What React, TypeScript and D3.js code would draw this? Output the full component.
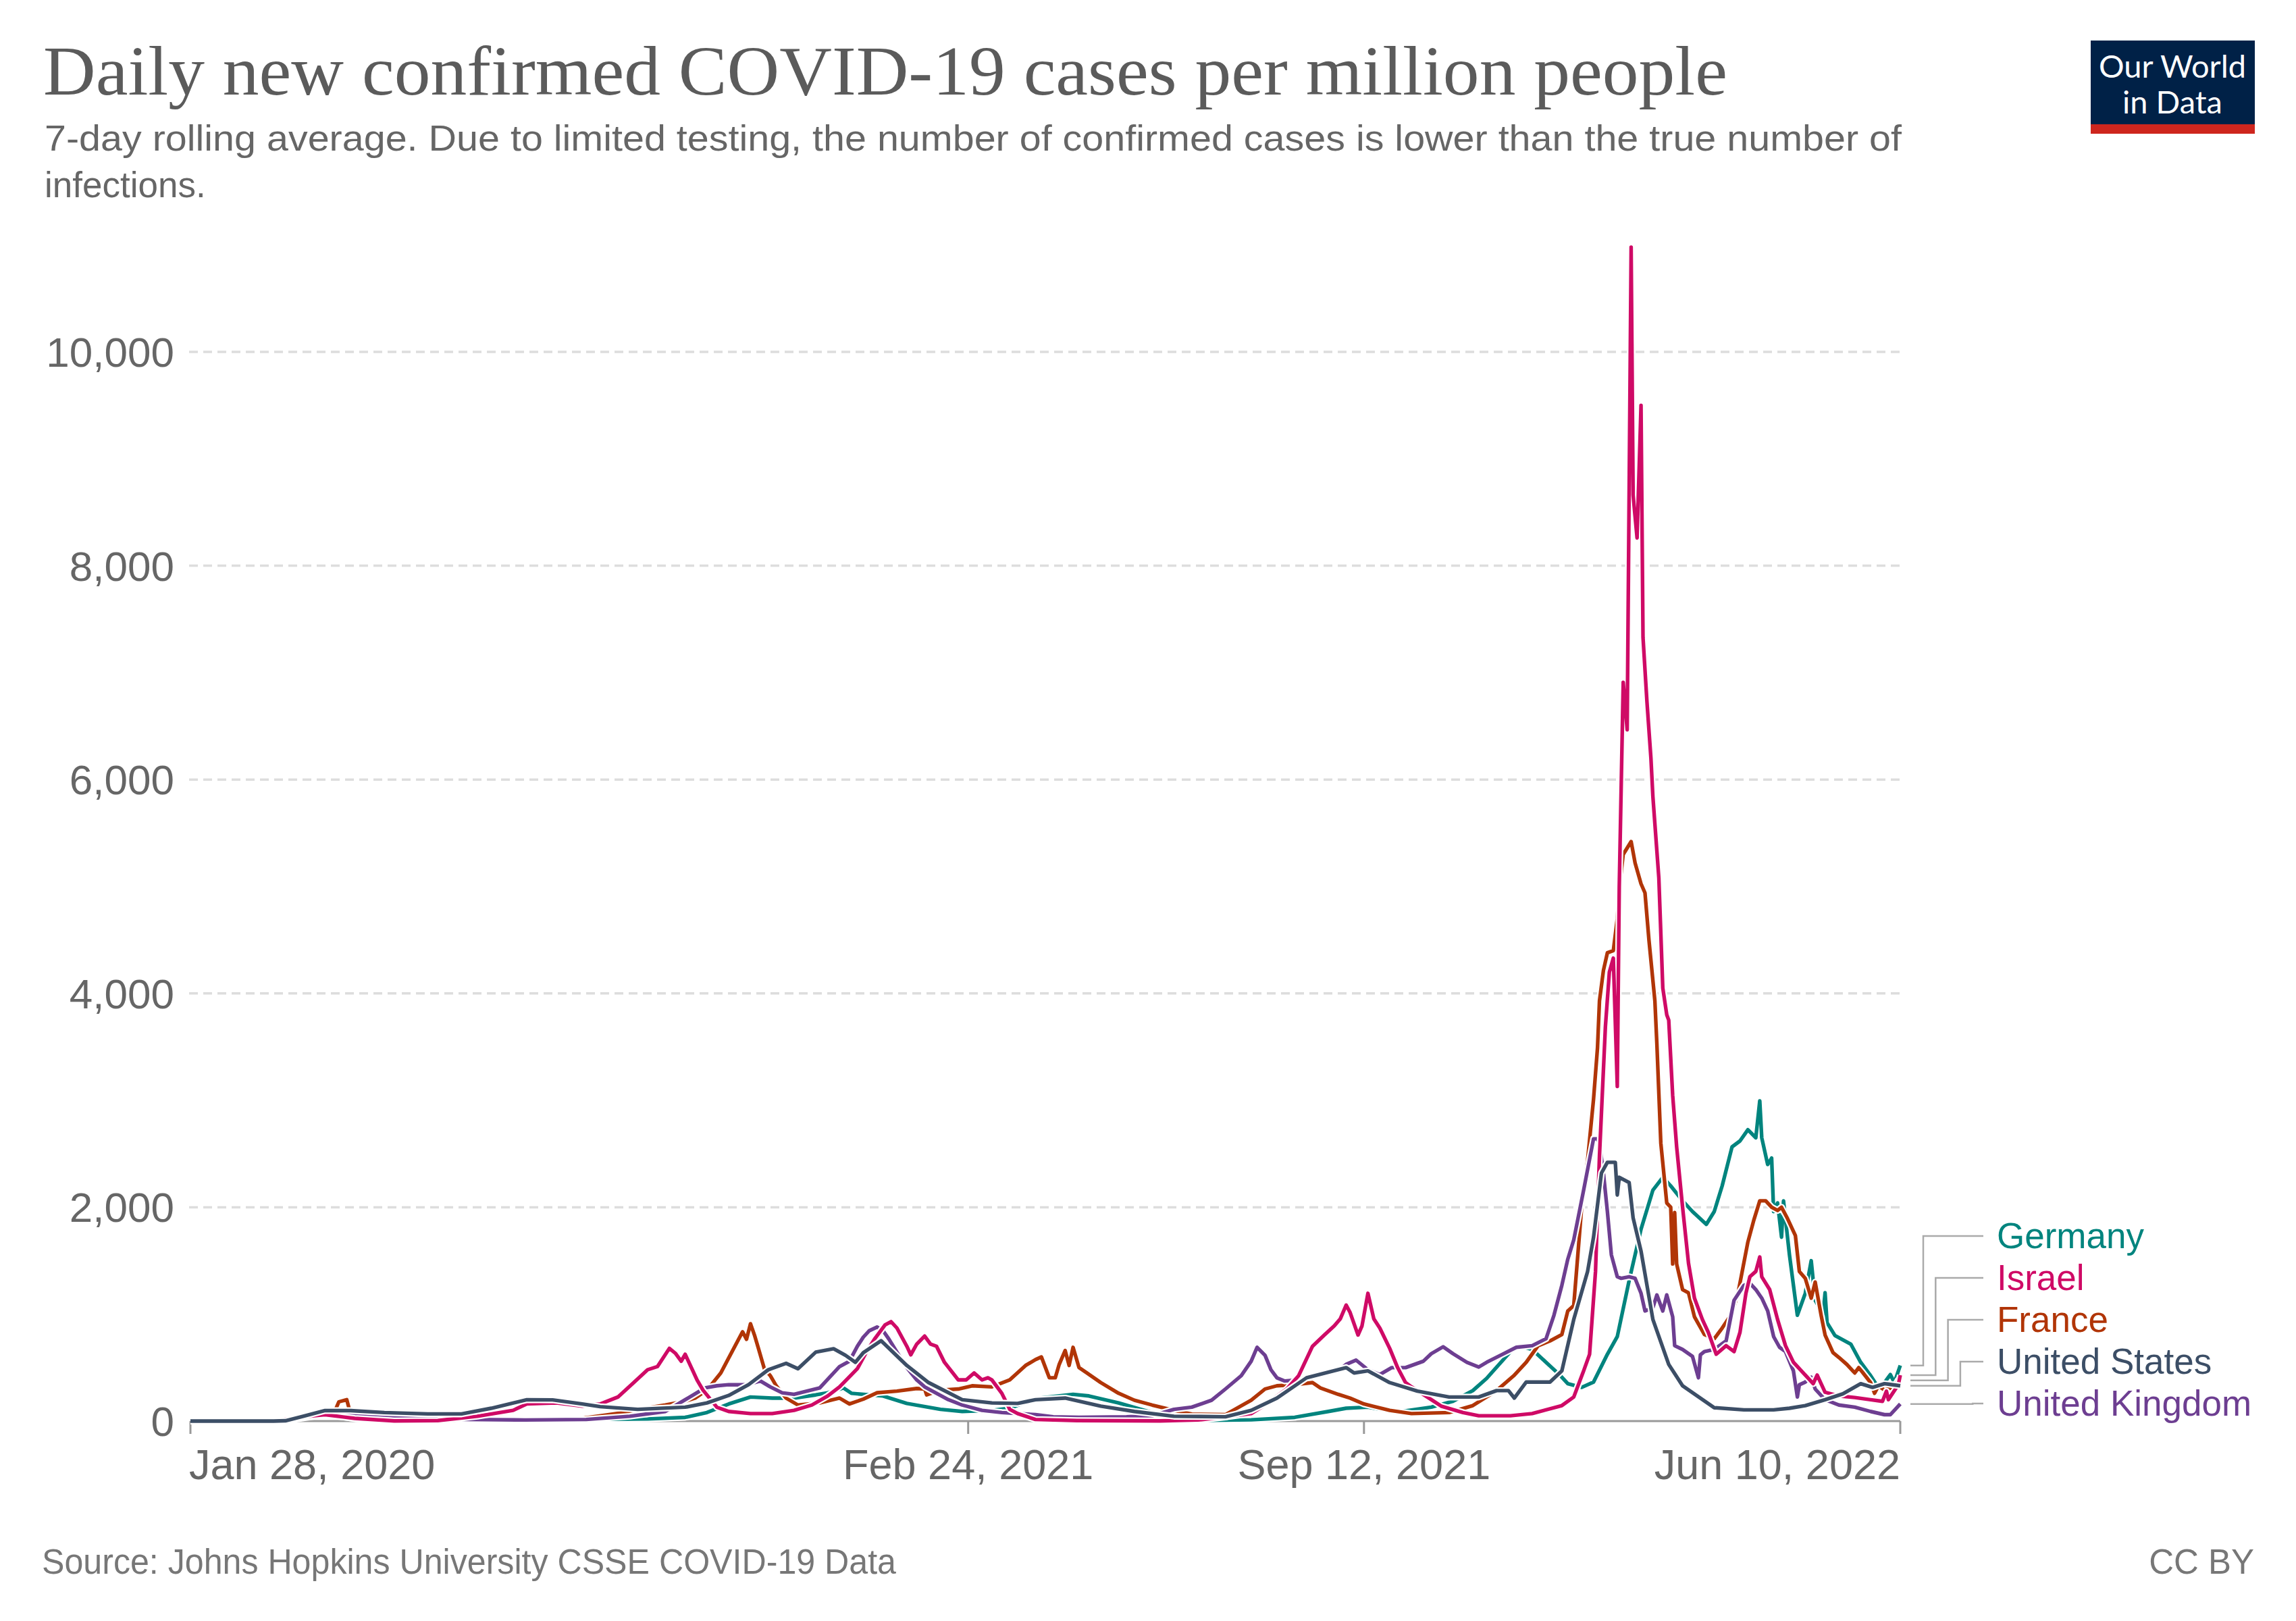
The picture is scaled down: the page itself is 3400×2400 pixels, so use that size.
import * as d3 from "d3";
import { FC } from "react";

type Pt = [string, number];

const COUNTRIES = ["Germany", "Israel", "France", "United States", "United Kingdom"];
const COLORS = ["#00847e", "#cf0a66", "#b13507", "#3c4e66", "#6d3e91"];

const germany: Pt[] = [
  ["2020-01-28", 0], ["2020-03-01", 0], ["2020-03-15", 10], ["2020-03-28", 65], ["2020-04-03", 72],
  ["2020-04-12", 45], ["2020-04-21", 20], ["2020-05-10", 10], ["2020-06-01", 5], ["2020-07-15", 5],
  ["2020-08-15", 15], ["2020-09-15", 20], ["2020-10-04", 35], ["2020-10-15", 80], ["2020-10-26", 160],
  ["2020-11-06", 225], ["2020-11-17", 215], ["2020-11-28", 215], ["2020-12-09", 245], ["2020-12-15", 265],
  ["2020-12-23", 310], ["2020-12-27", 260], ["2021-01-02", 250], ["2021-01-12", 235], ["2021-01-24", 165],
  ["2021-02-10", 110], ["2021-02-21", 90], ["2021-03-08", 100], ["2021-03-17", 120], ["2021-03-30", 210],
  ["2021-04-18", 250], ["2021-04-26", 235], ["2021-05-11", 170], ["2021-05-24", 100], ["2021-06-08", 25],
  ["2021-06-27", 7], ["2021-07-17", 12], ["2021-08-08", 35], ["2021-08-25", 90], ["2021-09-03", 120],
  ["2021-09-14", 130], ["2021-09-25", 95], ["2021-10-03", 95], ["2021-10-16", 130], ["2021-10-27", 185],
  ["2021-11-06", 285], ["2021-11-13", 400], ["2021-11-26", 670], ["2021-11-30", 700], ["2021-12-06", 670],
  ["2021-12-13", 550], ["2021-12-20", 430], ["2021-12-24", 350], ["2021-12-31", 315], ["2022-01-06", 365],
  ["2022-01-13", 625], ["2022-01-18", 790], ["2022-01-24", 1315], ["2022-01-30", 1795], ["2022-02-05", 2160],
  ["2022-02-10", 2280], ["2022-02-14", 2200], ["2022-02-20", 2060], ["2022-02-25", 1960], ["2022-03-04", 1840],
  ["2022-03-08", 1960], ["2022-03-12", 2200], ["2022-03-17", 2565], ["2022-03-21", 2620], ["2022-03-25", 2725],
  ["2022-03-29", 2650], ["2022-03-31", 2995], ["2022-04-01", 2650], ["2022-04-04", 2400], ["2022-04-06", 2460],
  ["2022-04-07", 1960], ["2022-04-09", 2040], ["2022-04-11", 1720], ["2022-04-12", 2060], ["2022-04-15", 1555],
  ["2022-04-19", 990], ["2022-04-23", 1195], ["2022-04-26", 1500], ["2022-04-28", 1130], ["2022-05-02", 1000],
  ["2022-05-03", 1200], ["2022-05-04", 920], ["2022-05-08", 800], ["2022-05-16", 720], ["2022-05-21", 550],
  ["2022-05-26", 425], ["2022-05-29", 340], ["2022-06-02", 360], ["2022-06-05", 435], ["2022-06-07", 360],
  ["2022-06-10", 520],
];

const israel: Pt[] = [
  ["2020-01-28", 0], ["2020-03-10", 0], ["2020-03-25", 40], ["2020-04-05", 60], ["2020-04-20", 25],
  ["2020-05-10", 2], ["2020-06-01", 5], ["2020-06-21", 45], ["2020-07-09", 100], ["2020-07-16", 160],
  ["2020-07-31", 170], ["2020-08-13", 140], ["2020-08-22", 160], ["2020-08-31", 225], ["2020-09-08", 360],
  ["2020-09-15", 480], ["2020-09-20", 510], ["2020-09-26", 680], ["2020-09-29", 635], ["2020-10-02", 560],
  ["2020-10-04", 625], ["2020-10-08", 465], ["2020-10-10", 385], ["2020-10-13", 290], ["2020-10-20", 130],
  ["2020-10-26", 90], ["2020-11-06", 70], ["2020-11-17", 70], ["2020-11-28", 100], ["2020-12-07", 150],
  ["2020-12-15", 235], ["2020-12-21", 320], ["2020-12-30", 490], ["2021-01-04", 660], ["2021-01-08", 775],
  ["2021-01-13", 900], ["2021-01-16", 930], ["2021-01-19", 870], ["2021-01-24", 700], ["2021-01-26", 620],
  ["2021-01-29", 720], ["2021-02-02", 795], ["2021-02-05", 720], ["2021-02-08", 700], ["2021-02-12", 550],
  ["2021-02-19", 385], ["2021-02-23", 385], ["2021-02-27", 450], ["2021-03-03", 385], ["2021-03-06", 405],
  ["2021-03-08", 385], ["2021-03-13", 260], ["2021-03-17", 110], ["2021-03-21", 70], ["2021-03-30", 15],
  ["2021-04-20", 5], ["2021-06-01", 2], ["2021-06-20", 10], ["2021-07-05", 40], ["2021-07-17", 70],
  ["2021-07-24", 150], ["2021-08-04", 300], ["2021-08-10", 425], ["2021-08-17", 700], ["2021-08-23", 805],
  ["2021-08-28", 890], ["2021-08-31", 955], ["2021-09-03", 1085], ["2021-09-05", 1015], ["2021-09-09", 805],
  ["2021-09-11", 890], ["2021-09-14", 1195], ["2021-09-17", 955], ["2021-09-20", 870], ["2021-09-25", 680],
  ["2021-09-29", 500], ["2021-10-03", 360], ["2021-10-06", 320], ["2021-10-14", 225], ["2021-10-21", 140],
  ["2021-11-01", 80], ["2021-11-09", 50], ["2021-11-25", 50], ["2021-12-06", 70], ["2021-12-21", 145],
  ["2021-12-27", 225], ["2022-01-01", 470], ["2022-01-04", 625], ["2022-01-07", 1400], ["2022-01-09", 2480],
  ["2022-01-12", 3690], ["2022-01-14", 4200], ["2022-01-16", 4330], ["2022-01-18", 3130], ["2022-01-19", 5000],
  ["2022-01-21", 6910], ["2022-01-23", 6465], ["2022-01-25", 10980], ["2022-01-26", 8660], ["2022-01-28", 8260],
  ["2022-01-30", 9500], ["2022-01-31", 7330], ["2022-02-02", 6725], ["2022-02-04", 6200], ["2022-02-05", 5840],
  ["2022-02-08", 5080], ["2022-02-10", 4050], ["2022-02-12", 3800], ["2022-02-13", 3750], ["2022-02-15", 3045],
  ["2022-02-17", 2565], ["2022-02-20", 2000], ["2022-02-23", 1475], ["2022-02-26", 1150], ["2022-03-02", 950],
  ["2022-03-05", 830], ["2022-03-09", 625], ["2022-03-14", 705], ["2022-03-18", 650], ["2022-03-21", 830],
  ["2022-03-24", 1195], ["2022-03-26", 1350], ["2022-03-29", 1400], ["2022-03-31", 1535], ["2022-04-01", 1350],
  ["2022-04-05", 1230], ["2022-04-09", 950], ["2022-04-13", 705], ["2022-04-17", 550], ["2022-04-23", 430],
  ["2022-04-27", 350], ["2022-04-29", 430], ["2022-05-03", 270], ["2022-05-10", 235], ["2022-05-18", 220],
  ["2022-05-26", 200], ["2022-06-01", 185], ["2022-06-03", 280], ["2022-06-04", 200], ["2022-06-09", 340],
  ["2022-06-10", 430],
];

const france: Pt[] = [
  ["2020-01-28", 0], ["2020-03-01", 0], ["2020-03-15", 10], ["2020-03-28", 50], ["2020-04-05", 70],
  ["2020-04-10", 95], ["2020-04-12", 180], ["2020-04-16", 200], ["2020-04-18", 60], ["2020-04-25", 40],
  ["2020-05-07", 15], ["2020-06-02", 5], ["2020-07-15", 8], ["2020-08-04", 15], ["2020-08-13", 25],
  ["2020-09-01", 75], ["2020-09-14", 120], ["2020-09-24", 150], ["2020-10-04", 185], ["2020-10-09", 215],
  ["2020-10-15", 290], ["2020-10-22", 450], ["2020-10-26", 590], ["2020-11-02", 835], ["2020-11-04", 765],
  ["2020-11-06", 910], ["2020-11-08", 805], ["2020-11-10", 680], ["2020-11-13", 490], ["2020-11-16", 425],
  ["2020-11-19", 330], ["2020-11-24", 215], ["2020-11-30", 150], ["2020-12-11", 170], ["2020-12-21", 215],
  ["2020-12-26", 160], ["2021-01-02", 205], ["2021-01-09", 265], ["2021-01-19", 280], ["2021-01-29", 305],
  ["2021-02-02", 300], ["2021-02-03", 245], ["2021-02-10", 290], ["2021-02-19", 300], ["2021-02-26", 330],
  ["2021-03-08", 320], ["2021-03-17", 385], ["2021-03-25", 520], ["2021-03-30", 575], ["2021-04-02", 600],
  ["2021-04-06", 405], ["2021-04-09", 405], ["2021-04-11", 530], ["2021-04-14", 660], ["2021-04-16", 520],
  ["2021-04-18", 690], ["2021-04-21", 500], ["2021-04-25", 450], ["2021-05-02", 360], ["2021-05-11", 260],
  ["2021-05-19", 195], ["2021-05-28", 150], ["2021-06-08", 100], ["2021-06-17", 65], ["2021-07-04", 60],
  ["2021-07-17", 195], ["2021-07-24", 300], ["2021-07-30", 330], ["2021-08-08", 340], ["2021-08-17", 360],
  ["2021-08-21", 310], ["2021-08-30", 250], ["2021-09-05", 215], ["2021-09-12", 160], ["2021-09-25", 100],
  ["2021-10-06", 70], ["2021-10-25", 80], ["2021-11-06", 145], ["2021-11-18", 285], ["2021-11-27", 430],
  ["2021-12-03", 550], ["2021-12-09", 705], ["2021-12-15", 750], ["2021-12-21", 810], ["2021-12-24", 1030],
  ["2021-12-27", 1080], ["2021-12-31", 2000], ["2022-01-03", 2440], ["2022-01-06", 3010], ["2022-01-08", 3490],
  ["2022-01-09", 3930], ["2022-01-11", 4215], ["2022-01-13", 4380], ["2022-01-16", 4400], ["2022-01-18", 4700],
  ["2022-01-19", 4980], ["2022-01-21", 5300], ["2022-01-25", 5420], ["2022-01-27", 5220], ["2022-01-30", 5025],
  ["2022-02-01", 4940], ["2022-02-03", 4500], ["2022-02-06", 3930], ["2022-02-07", 3530], ["2022-02-09", 2600],
  ["2022-02-12", 2040], ["2022-02-14", 2000], ["2022-02-15", 1470], ["2022-02-16", 1950], ["2022-02-17", 1470],
  ["2022-02-20", 1230], ["2022-02-23", 1200], ["2022-02-26", 975], ["2022-03-03", 810], ["2022-03-08", 770],
  ["2022-03-12", 870], ["2022-03-17", 1010], ["2022-03-20", 1195], ["2022-03-25", 1675], ["2022-03-28", 1880],
  ["2022-03-31", 2060], ["2022-04-03", 2060], ["2022-04-06", 2000], ["2022-04-09", 1970], ["2022-04-11", 2000],
  ["2022-04-14", 1895], ["2022-04-18", 1735], ["2022-04-20", 1400], ["2022-04-23", 1335], ["2022-04-26", 1150],
  ["2022-04-28", 1300], ["2022-05-01", 990], ["2022-05-03", 805], ["2022-05-07", 640], ["2022-05-10", 595],
  ["2022-05-14", 530], ["2022-05-18", 450], ["2022-05-20", 500], ["2022-05-22", 455], ["2022-05-26", 360],
  ["2022-05-28", 260], ["2022-05-30", 330], ["2022-06-02", 290], ["2022-06-07", 320], ["2022-06-09", 385],
  ["2022-06-10", 380],
];

const unitedStates: Pt[] = [
  ["2020-01-28", 0], ["2020-03-10", 0], ["2020-03-16", 3], ["2020-03-25", 45], ["2020-04-05", 98],
  ["2020-04-18", 98], ["2020-05-05", 80], ["2020-05-27", 67], ["2020-06-13", 67], ["2020-06-28", 120],
  ["2020-07-16", 200], ["2020-07-29", 198], ["2020-08-13", 160], ["2020-08-22", 135], ["2020-09-10", 110],
  ["2020-10-04", 130], ["2020-10-15", 170], ["2020-10-26", 240], ["2020-11-05", 340], ["2020-11-15", 480],
  ["2020-11-24", 540], ["2020-11-30", 490], ["2020-12-09", 645], ["2020-12-18", 677], ["2020-12-24", 615],
  ["2020-12-29", 550], ["2021-01-02", 640], ["2021-01-11", 752], ["2021-01-24", 520], ["2021-02-04", 360],
  ["2021-02-21", 200], ["2021-03-08", 170], ["2021-03-21", 165], ["2021-03-30", 200], ["2021-04-14", 215],
  ["2021-05-02", 140], ["2021-05-19", 90], ["2021-06-08", 45], ["2021-07-04", 40], ["2021-07-17", 100],
  ["2021-07-30", 215], ["2021-08-14", 405], ["2021-09-03", 500], ["2021-09-07", 450], ["2021-09-14", 470],
  ["2021-09-25", 360], ["2021-10-09", 280], ["2021-10-25", 225], ["2021-11-09", 225], ["2021-11-18", 285],
  ["2021-11-24", 285], ["2021-11-27", 215], ["2021-12-03", 365], ["2021-12-15", 365], ["2021-12-21", 470],
  ["2021-12-27", 950], ["2022-01-03", 1400], ["2022-01-06", 1720], ["2022-01-10", 2320], ["2022-01-13", 2420],
  ["2022-01-17", 2420], ["2022-01-18", 2115], ["2022-01-19", 2280], ["2022-01-24", 2230], ["2022-01-26", 1900],
  ["2022-01-30", 1590], ["2022-02-05", 950], ["2022-02-13", 530], ["2022-02-20", 330], ["2022-03-08", 125],
  ["2022-03-23", 105], ["2022-04-07", 105], ["2022-04-15", 120], ["2022-04-23", 145], ["2022-05-03", 200],
  ["2022-05-12", 255], ["2022-05-21", 350], ["2022-05-27", 315], ["2022-06-02", 350], ["2022-06-10", 330],
];

const unitedKingdom: Pt[] = [
  ["2020-01-28", 0], ["2020-03-05", 0], ["2020-03-20", 15], ["2020-04-05", 60], ["2020-04-15", 70],
  ["2020-05-01", 60], ["2020-05-20", 35], ["2020-06-15", 15], ["2020-07-15", 10], ["2020-08-15", 15],
  ["2020-09-06", 45], ["2020-09-24", 90], ["2020-10-04", 200], ["2020-10-14", 310], ["2020-10-20", 330],
  ["2020-10-26", 340], ["2020-11-04", 340], ["2020-11-11", 375], ["2020-11-16", 320], ["2020-11-22", 265],
  ["2020-11-28", 250], ["2020-12-11", 310], ["2020-12-18", 450], ["2020-12-21", 510], ["2020-12-26", 560],
  ["2020-12-30", 700], ["2021-01-02", 785], ["2021-01-05", 845], ["2021-01-09", 880], ["2021-01-12", 845],
  ["2021-01-15", 765], ["2021-01-19", 645], ["2021-01-24", 500], ["2021-01-29", 385], ["2021-02-02", 320],
  ["2021-02-08", 260], ["2021-02-14", 200], ["2021-02-21", 150], ["2021-03-03", 100], ["2021-03-13", 80],
  ["2021-03-30", 60], ["2021-04-08", 40], ["2021-04-21", 35], ["2021-05-15", 40], ["2021-05-28", 50],
  ["2021-06-08", 110], ["2021-06-17", 130], ["2021-06-27", 195], ["2021-07-04", 300], ["2021-07-12", 425],
  ["2021-07-17", 560], ["2021-07-20", 690], ["2021-07-24", 615], ["2021-07-27", 480], ["2021-07-30", 405],
  ["2021-08-03", 375], ["2021-08-10", 385], ["2021-08-17", 425], ["2021-08-23", 450], ["2021-08-30", 470],
  ["2021-09-03", 530], ["2021-09-08", 570], ["2021-09-14", 480], ["2021-09-20", 435], ["2021-09-26", 500],
  ["2021-10-03", 500], ["2021-10-12", 560], ["2021-10-16", 630], ["2021-10-22", 695], ["2021-10-27", 630],
  ["2021-11-03", 550], ["2021-11-09", 505], ["2021-11-13", 550], ["2021-11-21", 625], ["2021-11-28", 690],
  ["2021-12-06", 705], ["2021-12-13", 770], ["2021-12-17", 990], ["2021-12-21", 1270], ["2021-12-24", 1515],
  ["2021-12-27", 1695], ["2022-01-01", 2160], ["2022-01-06", 2640], ["2022-01-08", 2640], ["2022-01-09", 2600],
  ["2022-01-11", 2320], ["2022-01-13", 1960], ["2022-01-15", 1555], ["2022-01-18", 1350], ["2022-01-20", 1335],
  ["2022-01-24", 1350], ["2022-01-27", 1335], ["2022-01-30", 1195], ["2022-02-01", 1030], ["2022-02-05", 1060],
  ["2022-02-07", 1180], ["2022-02-10", 1030], ["2022-02-12", 1180], ["2022-02-15", 975], ["2022-02-16", 705],
  ["2022-02-20", 670], ["2022-02-25", 605], ["2022-02-28", 405], ["2022-03-01", 620], ["2022-03-03", 650],
  ["2022-03-08", 670], ["2022-03-14", 750], ["2022-03-18", 1130], ["2022-03-23", 1270], ["2022-03-26", 1290],
  ["2022-03-29", 1230], ["2022-04-01", 1150], ["2022-04-04", 1030], ["2022-04-07", 790], ["2022-04-10", 690],
  ["2022-04-13", 650], ["2022-04-17", 470], ["2022-04-19", 225], ["2022-04-20", 340], ["2022-04-23", 365],
  ["2022-04-26", 410], ["2022-04-28", 300], ["2022-05-03", 200], ["2022-05-10", 150], ["2022-05-18", 130],
  ["2022-05-26", 90], ["2022-06-02", 60], ["2022-06-05", 60], ["2022-06-10", 160],
];

const SERIES = [germany, israel, france, unitedStates, unitedKingdom];
// drawing order, last one on top
const DRAW_ORDER = [0, 2, 4, 1, 3];

const Y_TICKS = [0, 2000, 4000, 6000, 8000, 10000];
const X_TICKS = ["2020-01-28", "2021-02-24", "2021-09-12", "2022-06-10"];

const TITLE = "Daily new confirmed COVID-19 cases per million people";
const SUBTITLE = [
  "7-day rolling average. Due to limited testing, the number of confirmed cases is lower than the true number of",
  "infections.",
];
const SOURCE = "Source: Johns Hopkins University CSSE COVID-19 Data";

const W = 3400;
const H = 2400;
const SANS = "'Liberation Sans', Arial, sans-serif";

const parse = d3.utcParse("%Y-%m-%d");
const fmtTick = d3.utcFormat("%b %-d, %Y");

const App: FC = () => {
  const x = d3
    .scaleUtc()
    .domain([parse("2020-01-28")!, parse("2022-06-10")!])
    .range([282, 2814]);
  const y = d3.scaleLinear().domain([0, 10000]).range([2104, 521]);

  const line = d3
    .line<Pt>()
    .x((d) => x(parse(d[0])!))
    .y((d) => y(d[1]));

  const labelTop = 1830;
  const labelGap = 62;
  const connStart = 2829;
  const connEnd = 2937;

  return (
    <svg
      width={W}
      height={H}
      viewBox={`0 0 ${W} ${H}`}
      style={{ position: "absolute", left: 0, top: 0, background: "#fff" }}
    >
      <rect width={W} height={H} fill="#fff" />

      {/* header */}
      <text
        x={64}
        y={140}
        fontFamily="'Liberation Serif', 'Times New Roman', serif"
        fontSize={103}
        fill="#5b5b5b"
        textLength={2494}
        lengthAdjust="spacingAndGlyphs"
      >
        {TITLE}
      </text>
      <text
        x={66}
        y={223}
        fontFamily={SANS}
        fontSize={53}
        fill="#666"
        textLength={2750}
        lengthAdjust="spacingAndGlyphs"
      >
        {SUBTITLE[0]}
      </text>
      <text x={66} y={292} fontFamily={SANS} fontSize={53} fill="#666">
        {SUBTITLE[1]}
      </text>

      {/* logo */}
      <g>
        <rect x={3096} y={60} width={243} height={124} fill="#002147" />
        <rect x={3096} y={184} width={243} height={14} fill="#ce261e" />
        <text x={3217} y={115} textAnchor="middle" fontFamily="Lato, sans-serif" fontSize={47} fill="#fff">
          Our World
        </text>
        <text x={3217} y={168} textAnchor="middle" fontFamily="Lato, sans-serif" fontSize={47} fill="#fff">
          in Data
        </text>
      </g>

      {/* grid + y labels */}
      {Y_TICKS.map((t) => (
        <g key={t}>
          {t > 0 && (
            <line
              x1={280}
              x2={2814}
              y1={y(t)}
              y2={y(t)}
              stroke="#ddd"
              strokeWidth={3.5}
              strokeDasharray="13,8"
            />
          )}
          <text
            x={258}
            y={y(t) + 22}
            textAnchor="end"
            fontFamily={SANS}
            fontSize={62}
            fill="#666"
          >
            {d3.format(",")(t)}
          </text>
        </g>
      ))}

      {/* x axis */}
      <line x1={282} x2={2814} y1={y(0)} y2={y(0)} stroke="#999" strokeWidth={3} />
      {X_TICKS.map((s, i) => {
        const px = x(parse(s)!);
        const anchor = i === 0 ? "start" : i === X_TICKS.length - 1 ? "end" : "middle";
        return (
          <g key={s}>
            <line x1={px} x2={px} y1={y(0)} y2={y(0) + 19} stroke="#999" strokeWidth={3} />
            <text
              x={i === 0 ? px - 2 : px}
              y={2190}
              textAnchor={anchor}
              fontFamily={SANS}
              fontSize={63}
              fill="#666"
            >
              {fmtTick(parse(s)!)}
            </text>
          </g>
        );
      })}

      {/* lines */}
      {DRAW_ORDER.map((i) => (
        <g key={COUNTRIES[i]}>
          <path
            d={line(SERIES[i]) || ""}
            fill="none"
            stroke="#fff"
            strokeWidth={10}
            strokeLinejoin="round"
          />
          <path
            d={line(SERIES[i]) || ""}
            fill="none"
            stroke={COLORS[i]}
            strokeWidth={5.4}
            strokeLinejoin="round"
          />
        </g>
      ))}

      {/* end labels */}
      {COUNTRIES.map((c, i) => {
        const last = SERIES[i][SERIES[i].length - 1][1];
        const y0 = y(last);
        const ly = labelTop + i * labelGap;
        const kx = 2848 + i * 18.3;
        return (
          <g key={c}>
            <polyline
              points={`${connStart},${y0} ${kx},${y0} ${kx},${ly} ${connEnd},${ly}`}
              fill="none"
              stroke="#aaa"
              strokeWidth={2.5}
            />
            <text
              x={2957}
              y={ly + 18}
              fontFamily={SANS}
              fontSize={53}
              fill={COLORS[i]}
            >
              {c}
            </text>
          </g>
        );
      })}

      {/* footer */}
      <text
        x={62}
        y={2330}
        fontFamily={SANS}
        fontSize={51}
        fill="#777"
        textLength={1265}
        lengthAdjust="spacingAndGlyphs"
      >
        {SOURCE}
      </text>
      <text x={3338} y={2330} textAnchor="end" fontFamily={SANS} fontSize={51} fill="#777">
        CC BY
      </text>
    </svg>
  );
};

export default App;
